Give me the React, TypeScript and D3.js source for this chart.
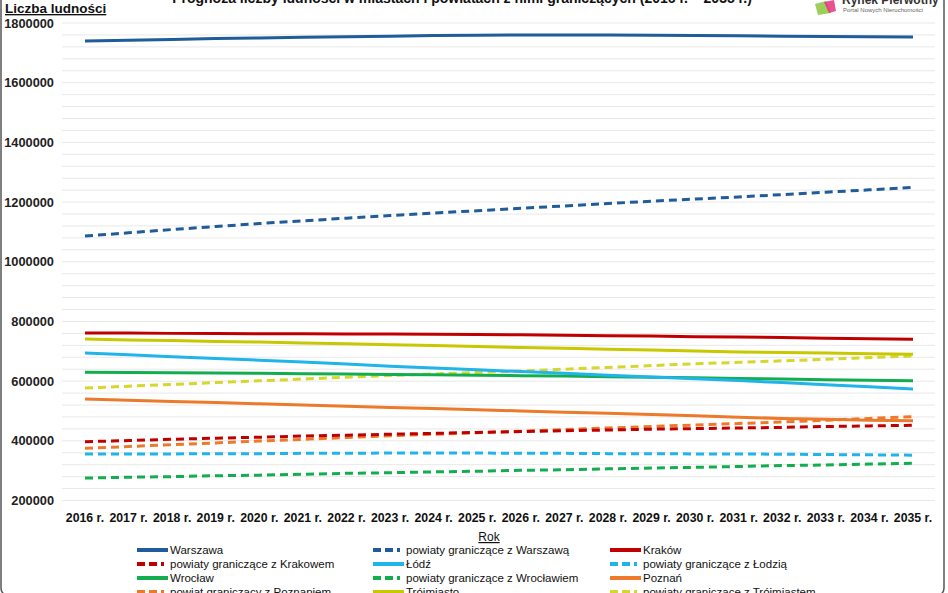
import React from 'react';
import { scaleLinear, scalePoint, line, range } from 'd3';

const years = [
  2016, 2017, 2018, 2019, 2020, 2021, 2022, 2023, 2024, 2025,
  2026, 2027, 2028, 2029, 2030, 2031, 2032, 2033, 2034, 2035,
];

const warszawa = [1740000, 1742000, 1745000, 1748000, 1750000, 1752000, 1754000, 1756000, 1758000, 1759000, 1760000, 1760000, 1760000, 1759000, 1758000, 1757000, 1756000, 1755000, 1754000, 1753000];
const powWarszawa = [1086000, 1097000, 1108000, 1118000, 1128000, 1137000, 1146000, 1155000, 1163000, 1171000, 1179000, 1187000, 1195000, 1203000, 1210000, 1217000, 1225000, 1233000, 1241000, 1249000];
const krakow = [761000, 761000, 760000, 760000, 759000, 759000, 758000, 758000, 757000, 756000, 755000, 754000, 752000, 751000, 749000, 748000, 746000, 744000, 742000, 740000];
const powKrakow = [397000, 401000, 405000, 409000, 412000, 416000, 419000, 422000, 425000, 428000, 431000, 434000, 436000, 439000, 441000, 443000, 445000, 448000, 450000, 452000];
const lodz = [694000, 688000, 682000, 676000, 670000, 664000, 657000, 650000, 644000, 638000, 632000, 626000, 620000, 614000, 608000, 602000, 595000, 588000, 581000, 574000];
const powLodz = [356000, 356000, 356000, 357000, 357000, 358000, 358000, 359000, 359000, 359000, 358000, 358000, 357000, 357000, 356000, 356000, 355000, 354000, 353000, 352000];
const wroclaw = [630000, 629000, 628000, 627000, 626000, 625000, 624000, 622000, 621000, 620000, 618000, 617000, 615000, 613000, 611000, 609000, 607000, 605000, 603000, 601000];
const powWroclaw = [275000, 278000, 280000, 283000, 285000, 288000, 291000, 293000, 296000, 298000, 301000, 303000, 306000, 309000, 311000, 314000, 317000, 319000, 322000, 325000];
const poznan = [540000, 536000, 532000, 528000, 524000, 520000, 516000, 512000, 508000, 504000, 500000, 496000, 492000, 488000, 484000, 479000, 475000, 472000, 469000, 467000];
const powPoznan = [375000, 381000, 387000, 393000, 399000, 405000, 411000, 417000, 422000, 427000, 432000, 438000, 443000, 448000, 453000, 458000, 463000, 469000, 475000, 481000];
const trojmiasto = [741000, 738000, 736000, 733000, 731000, 728000, 725000, 722000, 719000, 716000, 713000, 710000, 707000, 704000, 701000, 698000, 696000, 694000, 692000, 690000];
const powTrojmiasto = [577000, 583000, 589000, 595000, 601000, 607000, 613000, 619000, 624000, 629000, 634000, 640000, 646000, 652000, 658000, 663000, 668000, 673000, 679000, 684000];

const yTicks = [200000, 400000, 600000, 800000, 1000000, 1200000, 1400000, 1600000, 1800000];

interface Series {
  name: string;
  values: number[];
  color: string;
  dashed: boolean;
}

// legend order (row by row, 3 columns)
const series: Series[] = [
  { name: 'Warszawa', values: warszawa, color: '#1f5c99', dashed: false },
  { name: 'powiaty graniczące z Warszawą', values: powWarszawa, color: '#1f5c99', dashed: true },
  { name: 'Kraków', values: krakow, color: '#c00000', dashed: false },
  { name: 'powiaty graniczące z Krakowem', values: powKrakow, color: '#c00000', dashed: true },
  { name: 'Łódź', values: lodz, color: '#1fb4ea', dashed: false },
  { name: 'powiaty graniczące z Łodzią', values: powLodz, color: '#1fb4ea', dashed: true },
  { name: 'Wrocław', values: wroclaw, color: '#12ad4f', dashed: false },
  { name: 'powiaty graniczące z Wrocławiem', values: powWroclaw, color: '#12ad4f', dashed: true },
  { name: 'Poznań', values: poznan, color: '#ec7a2a', dashed: false },
  { name: 'powiat graniczący z Poznaniem', values: powPoznan, color: '#ec7a2a', dashed: true },
  { name: 'Trójmiasto', values: trojmiasto, color: '#c8c800', dashed: false },
  { name: 'powiaty graniczące z Trójmiastem', values: powTrojmiasto, color: '#d6d62e', dashed: true },
];

const FONT = '"Liberation Sans", Arial, sans-serif';

export default function App() {
  const W = 948;
  const H = 593;
  const plot = { left: 62, right: 935, top: 23, bottom: 500.5 };

  const x = scalePoint<number>().domain(years).range([85, 913]);
  const y = scaleLinear().domain([200000, 1800000]).range([plot.bottom, plot.top]);
  const grid = range(200000, 1800001, 40000);

  const path = line<number>()
    .x((_, i) => x(years[i]) as number)
    .y((d) => y(d));

  const drawOrder = [...series].reverse();

  const legendCols = [137, 373, 610];
  const legendRows = [550, 564, 578, 592];

  return (
    <svg width={W} height={H} style={{ position: 'absolute', left: 0, top: 0 }} fontFamily={FONT}>
      <rect width={W} height={H} fill="#ffffff" />

      {/* title, cut off at the top as in the source image */}
      <text x={462} y={3} textAnchor="middle" fontSize={14} fontWeight="bold" fill="#111">
        Prognoza liczby ludności w miastach i powiatach z nimi graniczących (2016 r. – 2035 r.)
      </text>

      {/* logo */}
      <g>
        <path d="M815,4 L826,1 L831,13 L818,15 Z" fill="#8cc63f" opacity={0.85} />
        <path d="M824,2 L834,0 L836,11 L829,13 Z" fill="#e5337f" opacity={0.85} />
        <text x={842} y={4} fontSize={12} fontWeight="bold" fill="#333">Rynek Pierwotny</text>
        <text x={843} y={12} fontSize={6} fill="#666">Portal Nowych Nieruchomości</text>
      </g>

      {/* gridlines */}
      {grid.map((g) => (
        <line key={g} x1={plot.left} x2={plot.right} y1={y(g)} y2={y(g)} stroke="#e8e8e8" strokeWidth={1} />
      ))}

      {/* y axis labels */}
      {yTicks.map((t) => (
        <text key={t} x={54} y={y(t) + 4.5} textAnchor="end" fontSize={12.8} fontWeight="bold" fill="#222">
          {t}
        </text>
      ))}
      <text x={5} y={13} fontSize={13.5} fontWeight="bold" fill="#111" textDecoration="underline">
        Liczba ludności
      </text>

      {/* x axis labels */}
      {years.map((yr) => (
        <text key={yr} x={x(yr)} y={522} textAnchor="middle" fontSize={12.3} fontWeight="bold" fill="#111">
          {`${yr} r.`}
        </text>
      ))}
      <text x={489} y={541} textAnchor="middle" fontSize={12} fill="#111" textDecoration="underline">
        Rok
      </text>

      {/* series */}
      {drawOrder.map((s) => (
        <path
          key={s.name}
          d={path(s.values) ?? ''}
          fill="none"
          stroke={s.color}
          strokeWidth={3}
          strokeDasharray={s.dashed ? '8,5' : undefined}
        />
      ))}

      {/* legend */}
      {series.map((s, i) => {
        const cx = legendCols[i % 3];
        const cy = legendRows[Math.floor(i / 3)];
        return (
          <g key={s.name}>
            <line
              x1={cx}
              x2={cx + 31}
              y1={cy}
              y2={cy}
              stroke={s.color}
              strokeWidth={4}
              strokeDasharray={s.dashed ? '8,4,8,4,3' : undefined}
            />
            <text x={cx + 33} y={cy + 4} fontSize={11.5} fill="#111">
              {s.name}
            </text>
          </g>
        );
      })}

      {/* chart frame */}
      <rect x={1} y={-20} width={943} height={616} rx={8} fill="none" stroke="#555" strokeWidth={1.5} />
    </svg>
  );
}
